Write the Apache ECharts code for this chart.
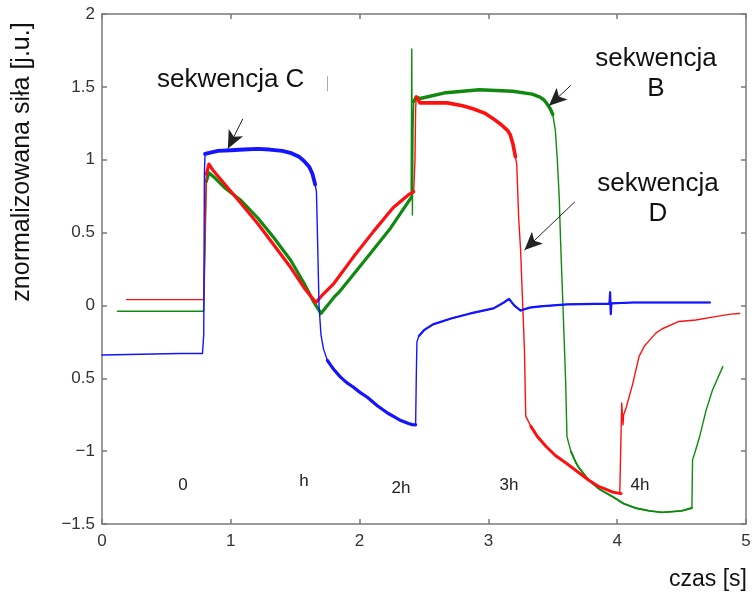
<!DOCTYPE html>
<html>
<head>
<meta charset="utf-8">
<script src="https://cdn.jsdelivr.net/npm/echarts@6/dist/echarts.min.js"></script>
<style>
  html, body { margin: 0; padding: 0; background: #fff; }
  #chart { width: 756px; height: 604px; }
</style>
</head>
<body>
<div id="chart"></div>
<script>
// Normalised force traces over time, [czas s, siła j.u.]
const seqC = [
  [0,-0.34],[0.3,-0.335],[0.6,-0.33],[0.78,-0.33],[0.79,-0.2],[0.795,0.9],[0.80,1.04],[0.85,1.05],
  [0.9,1.06],[1.0,1.065],[1.1,1.07],[1.21,1.075],[1.3,1.07],[1.4,1.06],[1.47,1.045],[1.53,1.02],
  [1.57,0.99],[1.61,0.95],[1.635,0.90],[1.655,0.83],[1.665,0.78],[1.675,0.4],[1.685,0.0],[1.70,-0.2],
  [1.72,-0.3],[1.75,-0.377],[1.775,-0.41],[1.8,-0.44],[1.85,-0.49],[1.90,-0.53],[1.95,-0.56],
  [2.0,-0.595],[2.06,-0.63],[2.14,-0.69],[2.22,-0.74],[2.27,-0.765],[2.32,-0.79],[2.38,-0.81],
  [2.41,-0.818],[2.435,-0.82],[2.44,-0.5],[2.445,-0.25],[2.46,-0.21],
  [2.5,-0.17],[2.57,-0.13],[2.71,-0.09],[2.86,-0.055],[3.04,-0.02],[3.12,0.02],[3.16,0.045],
  [3.2,0.0],[3.25,-0.035],[3.32,-0.015],[3.40,-0.007],[3.61,0.007],[3.94,0.012],[3.945,0.09],
  [3.95,-0.06],[3.955,0.014],[4.12,0.02],[4.72,0.02]
];
const seqD = [
  [0.19,0.04],[0.5,0.04],[0.79,0.04],[0.80,0.5],[0.81,0.9],[0.83,0.97],[0.86,0.93],[0.95,0.835],
  [1.08,0.70],[1.21,0.56],[1.33,0.42],[1.465,0.26],[1.57,0.12],[1.66,0.02],[1.72,0.08],[1.80,0.15],
  [1.95,0.33],[2.11,0.51],[2.26,0.67],[2.38,0.76],[2.42,0.78],[2.43,1.0],[2.435,1.35],[2.44,1.43],
  [2.47,1.39],[2.55,1.39],[2.68,1.39],[2.8,1.37],[2.88,1.35],[2.97,1.32],[3.04,1.28],[3.1,1.24],
  [3.15,1.20],[3.17,1.17],[3.19,1.11],[3.21,1.02],[3.22,0.97],[3.235,0.6],[3.25,0.38],[3.28,-0.31],
  [3.29,-0.76],[3.33,-0.83],[3.38,-0.90],[3.45,-0.97],[3.52,-1.03],[3.60,-1.08],[3.69,-1.14],
  [3.78,-1.20],[3.85,-1.24],[3.91,-1.26],[3.96,-1.28],[4.02,-1.29],[4.03,-1.29],
  [4.035,-0.67],[4.045,-0.82],[4.05,-0.75],[4.07,-0.70],[4.12,-0.54],[4.17,-0.35],[4.21,-0.28],
  [4.25,-0.24],[4.30,-0.19],[4.35,-0.16],[4.48,-0.11],[4.61,-0.10],[4.74,-0.08],[4.88,-0.06],[4.95,-0.055]
];
const seqB = [
  [0.12,-0.04],[0.5,-0.04],[0.79,-0.04],[0.80,0.4],[0.81,0.85],[0.83,0.91],[0.87,0.88],[0.95,0.81],
  [1.08,0.72],[1.21,0.60],[1.33,0.47],[1.465,0.31],[1.57,0.15],[1.64,0.03],[1.70,-0.055],[1.75,0.0],
  [1.80,0.055],[1.85,0.10],[2.06,0.33],[2.24,0.53],[2.37,0.70],[2.40,0.74],[2.405,1.76],[2.41,0.62],
  [2.415,1.2],[2.42,1.40],[2.44,1.43],[2.47,1.42],[2.67,1.46],[2.93,1.48],[3.19,1.47],[3.34,1.45],
  [3.40,1.43],[3.425,1.415],[3.45,1.39],[3.465,1.37],[3.48,1.35],[3.50,1.31],[3.52,1.20],[3.535,1.0],
  [3.55,0.74],[3.56,0.45],[3.58,-0.03],[3.60,-0.53],[3.61,-0.90],[3.64,-1.0],[3.68,-1.08],[3.70,-1.11],
  [3.78,-1.20],[3.86,-1.26],[3.96,-1.31],[4.05,-1.36],[4.14,-1.39],[4.25,-1.41],[4.35,-1.42],
  [4.50,-1.41],[4.58,-1.39],[4.585,-1.06],[4.60,-1.02],[4.64,-0.90],
  [4.69,-0.72],[4.74,-0.58],[4.82,-0.42]
];
const xTicks = [0, 1, 2, 3, 4, 5];
const yTickText = { '2': '2', '1.5': '1.5', '1': '1', '0.5': '0.5', '0': '0', '-0.5': '0.5', '-1': '\u22121', '-1.5': '\u22121.5' };
const phaseNames = ['0', 'h', '2h', '3h', '4h'];

const FONT = '"Liberation Sans", Arial, sans-serif';
const axisGray = '#7a7a7a';
const BLUE = '#1414ff', RED = '#ff1010', GREEN = '#0f8a0f';

const chart = echarts.init(document.getElementById('chart'), null, { renderer: 'canvas' });

// Slice of a trace between two times (inclusive), used to draw the noisy
// stretches of the recording with a heavier stroke than the fast transitions.
function span(data, lo, hi) {
  return data.filter(p => p[0] >= lo && p[0] <= hi);
}

function trace(name, data, color, width, z, extra) {
  return Object.assign({
    name, type: 'line', data, showSymbol: false, symbol: 'none', silent: true,
    lineStyle: { color, width, join: 'round', cap: 'round' }, z
  }, extra || {});
}

function arrow(from, to) {
  return [{ coord: from }, { coord: to }];
}
const arrowStyle = {
  silent: true,
  symbol: ['none', 'arrow'],
  symbolSize: [12, 18],
  label: { show: false },
  lineStyle: { color: '#222', width: 1, type: 'solid' },
  itemStyle: { color: '#111' },
  emphasis: { disabled: true },
  animation: false
};

const frameAxis = {
  axisLine: { show: true, onZero: false, lineStyle: { color: axisGray, width: 1.5 } },
  axisTick: { show: true, inside: true, length: 5, lineStyle: { color: axisGray, width: 1.5 } },
  splitLine: { show: false }
};

chart.setOption({
  animation: false,
  backgroundColor: '#fff',
  grid: { left: 102, right: 10, top: 14, bottom: 80 },
  xAxis: [
    Object.assign({
      type: 'value', min: 0, max: 5, interval: 1, position: 'bottom',
      axisLabel: { color: '#333', fontSize: 17, fontFamily: FONT, margin: 9,
        formatter: v => xTicks.includes(v) ? String(v) : '' }
    }, frameAxis),
    Object.assign({
      type: 'value', min: 0, max: 5, interval: 1, position: 'top',
      axisLabel: { show: false }
    }, frameAxis)
  ],
  yAxis: [
    Object.assign({
      type: 'value', min: -1.5, max: 2, interval: 0.5, position: 'left',
      axisLabel: { color: '#333', fontSize: 17, fontFamily: FONT, margin: 7,
        formatter: v => yTickText[String(v)] ?? '' }
    }, frameAxis),
    Object.assign({
      type: 'value', min: -1.5, max: 2, interval: 0.5, position: 'right',
      axisLabel: { show: false }
    }, frameAxis)
  ],
  series: [
    // sekwencja B (green)
    trace('sekwencja B', seqB, GREEN, 1.4, 3, {
      markLine: Object.assign({ data: [arrow([3.64, 1.51], [3.47, 1.37])] }, arrowStyle)
    }),
    trace('sekwencja B', span(seqB, 0.81, 2.40), GREEN, 3.2, 3),
    trace('sekwencja B', span(seqB, 2.42, 3.50), GREEN, 3.4, 3),
    trace('sekwencja B', span(seqB, 3.64, 4.58), GREEN, 1.9, 3),
    // sekwencja D (red)
    trace('sekwencja D', seqD, RED, 1.4, 4, {
      markLine: Object.assign({ data: [arrow([3.67, 0.71], [3.28, 0.38])] }, arrowStyle)
    }),
    trace('sekwencja D', span(seqD, 0.81, 2.42), RED, 3.2, 4),
    trace('sekwencja D', span(seqD, 2.44, 3.21), RED, 3.6, 4),
    trace('sekwencja D', span(seqD, 3.33, 4.03), RED, 3.0, 4),
    // sekwencja C (blue)
    trace('sekwencja C', seqC, BLUE, 1.4, 5, {
      markLine: Object.assign({ data: [
        arrow([1.093, 1.28], [0.977, 1.075]),
        [{ coord: [1.75, 1.575], symbol: 'none', lineStyle: { color: '#aaa', width: 1 } },
         { coord: [1.75, 1.47], symbol: 'none' }]
      ] }, arrowStyle)
    }),
    trace('sekwencja C', span(seqC, 0.80, 1.655), BLUE, 3.8, 5),
    trace('sekwencja C', span(seqC, 1.75, 2.435), BLUE, 3.2, 5),
    trace('sekwencja C', span(seqC, 2.46, 4.72), BLUE, 2.2, 5)
  ],
  graphic: [
    { type: 'text', left: 157, top: 67, style: { text: 'sekwencja C', font: '26px ' + FONT, fill: '#111' } },
    { type: 'text', x: 656, y: 74, style: { text: 'sekwencja\nB', font: '26px ' + FONT, fill: '#111',
        textAlign: 'center', textVerticalAlign: 'middle', lineHeight: 30 } },
    { type: 'text', x: 658, y: 199, style: { text: 'sekwencja\nD', font: '26px ' + FONT, fill: '#111',
        textAlign: 'center', textVerticalAlign: 'middle', lineHeight: 30 } },
    { type: 'text', x: 22, y: 162, rotation: Math.PI / 2,
      style: { text: 'znormalizowana siła [j.u.]', font: '25px ' + FONT, fill: '#111',
        textAlign: 'center', textVerticalAlign: 'middle' } },
    { type: 'text', x: 708, y: 580, style: { text: 'czas [s]', font: '23px ' + FONT, fill: '#111',
        textAlign: 'center', textVerticalAlign: 'middle' } },
    { type: 'text', x: 183, y: 485, style: { text: phaseNames[0], font: '17px ' + FONT, fill: '#222', textAlign: 'center', textVerticalAlign: 'middle' } },
    { type: 'text', x: 304, y: 481, style: { text: phaseNames[1], font: '17px ' + FONT, fill: '#222', textAlign: 'center', textVerticalAlign: 'middle' } },
    { type: 'text', x: 401, y: 488, style: { text: phaseNames[2], font: '17px ' + FONT, fill: '#222', textAlign: 'center', textVerticalAlign: 'middle' } },
    { type: 'text', x: 509, y: 485, style: { text: phaseNames[3], font: '17px ' + FONT, fill: '#222', textAlign: 'center', textVerticalAlign: 'middle' } },
    { type: 'text', x: 640, y: 485, style: { text: phaseNames[4], font: '17px ' + FONT, fill: '#222', textAlign: 'center', textVerticalAlign: 'middle' } }
  ]
});
</script>
</body>
</html>
